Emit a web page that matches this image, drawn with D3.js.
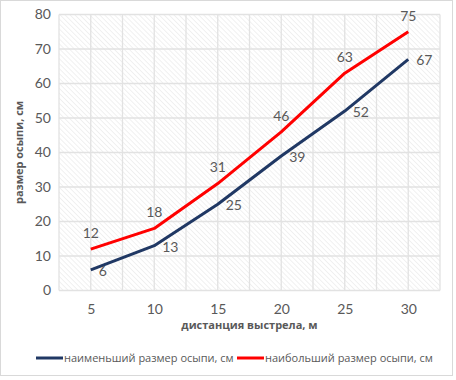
<!DOCTYPE html>
<html>
<head>
<meta charset="utf-8">
<script src="https://cdn.jsdelivr.net/npm/d3@7"></script>
<style>
  body { margin: 0; background: #fff; }
  svg text { font-family: "Open Sans", sans-serif; }
</style>
</head>
<body>
<svg id="chart" width="456" height="380"></svg>
<script>
// distance values on the x axis
const distances = [5, 10, 15, 20, 25, 30];
const smallest = [6, 13, 25, 39, 52, 67];
const largest = [12, 18, 31, 46, 63, 75];
const xTicks = [5, 10, 15, 20, 25, 30];
const yTicks = [0, 10, 20, 30, 40, 50, 60, 70, 80];
const seriesNames = ["наименьший размер осыпи, см", "наибольший размер осыпи, см"];

const width = 456, height = 380;
const margin = { top: 14.5, right: 16, bottom: 89.5, left: 59 };
const svg = d3.select("#chart");

// outer frame
svg.append("rect")
    .attr("x", 0.5).attr("y", 0.5).attr("width", 452).attr("height", 375)
    .attr("fill", "#fff").attr("stroke", "#d9d9d9");

const x = d3.scaleLinear().domain([2.5, 32.5]).range([margin.left, width - margin.right]);
const y = d3.scaleLinear().domain([0, 80]).range([height - margin.bottom, margin.top]);

// hatched background of the plot area
const pat = svg.append("defs").append("pattern")
    .attr("id", "hatch").attr("patternUnits", "userSpaceOnUse")
    .attr("width", 3.5).attr("height", 3.5)
    .attr("patternTransform", "rotate(-45)");
pat.append("line").attr("x1", 0).attr("y1", 0).attr("x2", 0).attr("y2", 3.5)
    .attr("stroke", "#e8e8e8").attr("stroke-width", 1.2);

svg.append("rect")
    .attr("x", x(2.5)).attr("y", y(80))
    .attr("width", x(32.5) - x(2.5)).attr("height", y(0) - y(80))
    .attr("fill", "url(#hatch)");

// grid
const grid = svg.append("g").attr("stroke", "#e2e2e2").attr("stroke-width", 1.3);
grid.selectAll(".gx").data(d3.range(2.5, 32.6, 2.5)).join("line")
    .attr("x1", d => x(d)).attr("x2", d => x(d))
    .attr("y1", y(0)).attr("y2", y(80));
grid.selectAll(".gy").data(yTicks).join("line")
    .attr("y1", d => y(d)).attr("y2", d => y(d))
    .attr("x1", x(2.5)).attr("x2", x(32.5));

// axes (labels only)
const gX = svg.append("g").attr("transform", `translate(0,${y(0) + 9})`)
    .call(d3.axisBottom(x).tickValues(xTicks).tickSize(0).tickPadding(5));
const gY = svg.append("g").attr("transform", `translate(${x(2.5) - 8},0)`)
    .call(d3.axisLeft(y).tickValues(yTicks).tickSize(0).tickPadding(0));
[gX, gY].forEach(g => {
    g.select(".domain").remove();
    g.selectAll("text").attr("fill", "#595959").style("font-size", "14px")
        .style("font-family", "Lato, sans-serif");
});

// axis titles
svg.append("text")
    .attr("x", (x(2.5) + x(32.5)) / 2).attr("y", 329)
    .attr("text-anchor", "middle").attr("fill", "#595959")
    .style("font-size", "11px").style("font-weight", "bold")
    .text("дистанция выстрела, м");
svg.append("text")
    .attr("transform", `translate(23,${(y(0) + y(80)) / 2}) rotate(-90)`)
    .attr("text-anchor", "middle").attr("fill", "#595959")
    .style("font-size", "11px").style("font-weight", "bold")
    .text("размер осыпи, см");

const series = [
    { key: seriesNames[0], values: smallest, color: "#203864", pos: "right" },
    { key: seriesNames[1], values: largest, color: "#ff0000", pos: "above" }
];

const line = d3.line().x(d => x(d[0])).y(d => y(d[1]));

series.forEach(s => {
    const pts = distances.map((d, i) => [d, s.values[i]]);
    svg.append("path")
        .attr("d", line(pts))
        .attr("fill", "none").attr("stroke", s.color)
        .attr("stroke-width", 3).attr("stroke-linejoin", "round");

    svg.append("g").selectAll("text").data(pts).join("text")
        .attr("x", d => s.pos === "right" ? x(d[0]) + 8 : x(d[0]))
        .attr("y", d => s.pos === "right" ? y(d[1]) + 1 : y(d[1]) - 16)
        .attr("dy", "0.35em")
        .attr("text-anchor", s.pos === "right" ? "start" : "middle")
        .attr("fill", "#595959").style("font-size", "14px")
        .style("font-family", "Lato, sans-serif")
        .text(d => d[1]);
});

// legend
const legendPos = [36, 237];
series.forEach((s, i) => {
    const g = svg.append("g").attr("transform", `translate(${legendPos[i]},358)`);
    g.append("line").attr("x1", 0).attr("x2", 27).attr("stroke", s.color).attr("stroke-width", 3);
    g.append("text").attr("x", 28).attr("dy", "0.35em")
        .attr("fill", "#595959").style("font-size", "11px")
        .text(s.key);
});
</script>
</body>
</html>
